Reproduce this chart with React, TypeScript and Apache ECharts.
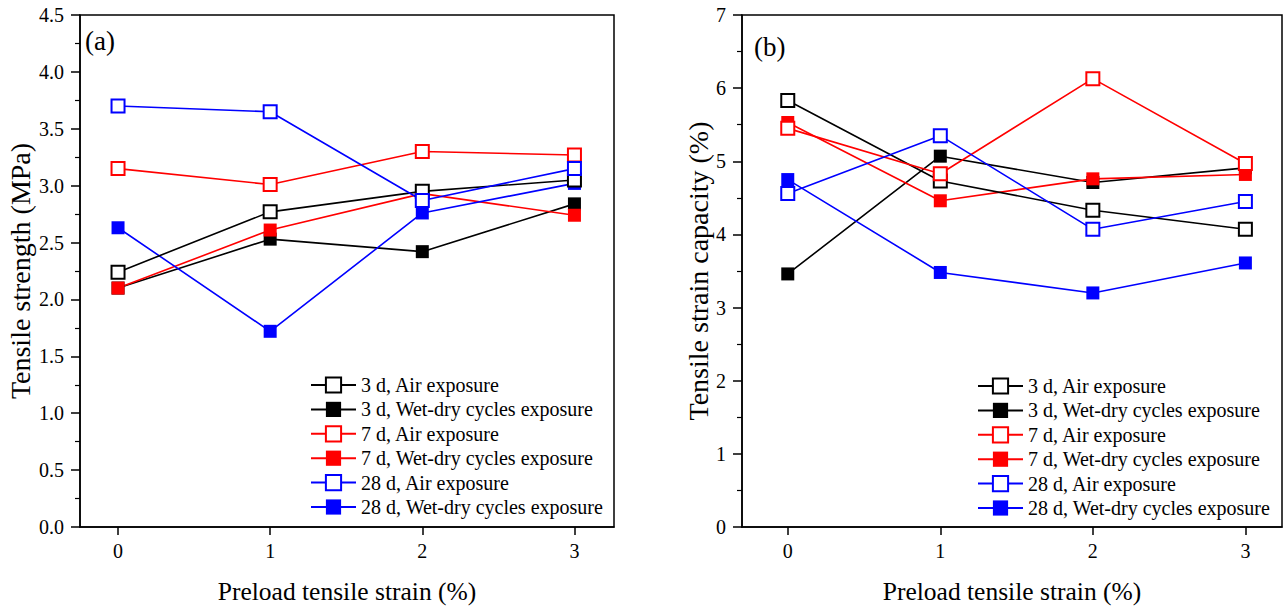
import React, { useEffect, useRef } from "react";
import * as echarts from "echarts";

const strains = [0, 1, 2, 3];
const seriesNames = [
  "3 d, Air exposure",
  "3 d, Wet-dry cycles exposure",
  "7 d, Air exposure",
  "7 d, Wet-dry cycles exposure",
  "28 d, Air exposure",
  "28 d, Wet-dry cycles exposure",
];
const seriesColors = ["#000000", "#000000", "#ff0000", "#ff0000", "#0000ff", "#0000ff"];
const seriesHollow = [true, false, true, false, true, false];

// (a) Tensile strength (MPa)
const strength3dAir = [2.24, 2.77, 2.95, 3.05];
const strength3dWet = [2.1, 2.53, 2.42, 2.84];
const strength7dAir = [3.15, 3.01, 3.3, 3.27];
const strength7dWet = [2.1, 2.61, 2.93, 2.74];
const strength28dAir = [3.7, 3.65, 2.87, 3.15];
const strength28dWet = [2.63, 1.72, 2.76, 3.02];

// (b) Tensile strain capacity (%)
const capacity3dAir = [5.83, 4.73, 4.33, 4.07];
const capacity3dWet = [3.46, 5.07, 4.71, 4.91];
const capacity7dAir = [5.45, 4.83, 6.13, 4.97];
const capacity7dWet = [5.53, 4.46, 4.76, 4.82];
const capacity28dAir = [4.56, 5.35, 4.07, 4.45];
const capacity28dWet = [4.75, 3.48, 3.2, 3.61];

const FONT = "Liberation Serif";

export default function App() {
  const ref = useRef<HTMLDivElement>(null);
  useEffect(() => {
    if (!ref.current) return;
    const chart = echarts.init(ref.current, null, { renderer: "svg" });
    const strengthData = [strength3dAir, strength3dWet, strength7dAir, strength7dWet, strength28dAir, strength28dWet];
    const capacityData = [capacity3dAir, capacity3dWet, capacity7dAir, capacity7dWet, capacity28dAir, capacity28dWet];

    const mkSeries = (data: number[][], idx: number) =>
      data.map((vals, i) => ({
        name: seriesNames[i],
        type: "line",
        xAxisIndex: idx,
        yAxisIndex: idx,
        data: vals.map((v, j) => [strains[j], v]),
        symbol: "rect",
        symbolSize: 13,
        lineStyle: { color: seriesColors[i], width: 1.6 },
        itemStyle: {
          color: seriesHollow[i] ? "#ffffff" : seriesColors[i],
          borderColor: seriesColors[i],
          borderWidth: seriesHollow[i] ? 2 : 0,
        },
        emphasis: { disabled: true },
        z: seriesHollow[i] ? 3 : 2,
      }));

    const xAxis = (idx: number, min: number, max: number) => ({
      type: "value",
      gridIndex: idx,
      min,
      max,
      name: "Preload tensile strain (%)",
      nameLocation: "middle",
      nameGap: 51,
      nameTextStyle: { fontFamily: FONT, fontSize: 25.5, color: "#000" },
      axisLine: { show: true, onZero: false, lineStyle: { color: "#000", width: 1.5 } },
      axisTick: { show: true, customValues: strains, length: 8, lineStyle: { color: "#000", width: 1.5 } },
      axisLabel: { customValues: strains, fontFamily: FONT, fontSize: 20, color: "#000", margin: 14 },
      splitLine: { show: false },
    });

    const yAxis = (idx: number, max: number, interval: number, name: string, gap: number, fmt: (v: number) => string) => ({
      type: "value",
      gridIndex: idx,
      min: 0,
      max,
      interval,
      name,
      nameLocation: "middle",
      nameGap: gap,
      nameTextStyle: { fontFamily: FONT, fontSize: 28, color: "#000" },
      axisLine: { show: true, onZero: false, lineStyle: { color: "#000", width: 1.5 } },
      axisTick: { show: true, length: 9, lineStyle: { color: "#000", width: 1.5 } },
      minorTick: { show: true, splitNumber: 2, length: 5, lineStyle: { color: "#000", width: 1.2 } },
      axisLabel: { fontFamily: FONT, fontSize: 20, color: "#000", margin: 16, formatter: fmt },
      splitLine: { show: false },
    });

    const legend = (left: number, top: number) => ({
      orient: "vertical",
      left,
      top,
      padding: 0,
      data: seriesNames,
      itemWidth: 45,
      itemHeight: 19,
      itemGap: 4.4,
      selectedMode: false,
      textStyle: { fontFamily: FONT, fontSize: 20, color: "#000" },
    });

    chart.setOption({
      animation: false,
      backgroundColor: "#fff",
      grid: [
        { left: 80, top: 15, width: 534, height: 512, show: true, borderColor: "#000", borderWidth: 1.5, backgroundColor: "transparent" },
        { left: 742, top: 15, width: 540, height: 512, show: true, borderColor: "#000", borderWidth: 1.5, backgroundColor: "transparent" },
      ],
      xAxis: [xAxis(0, -0.25, 3.26), xAxis(1, -0.3, 3.24)],
      yAxis: [
        yAxis(0, 4.5, 0.5, "Tensile strength (MPa)", 46, (v: number) => v.toFixed(1)),
        yAxis(1, 7, 1, "Tensile strain capacity (%)", 25, (v: number) => String(v)),
      ],
      legend: [legend(310, 375), legend(977, 376)],
      graphic: [
        { type: "text", left: 85, top: 27, style: { text: "(a)", font: `27px ${FONT}`, fill: "#000" } },
        { type: "text", left: 754, top: 33, style: { text: "(b)", font: `27px ${FONT}`, fill: "#000" } },
      ],
      series: [...mkSeries(strengthData, 0), ...mkSeries(capacityData, 1)],
    });
    return () => chart.dispose();
  }, []);
  return <div ref={ref} style={{ width: 1287, height: 610, position: "absolute", left: 0, top: 0 }} />;
}
